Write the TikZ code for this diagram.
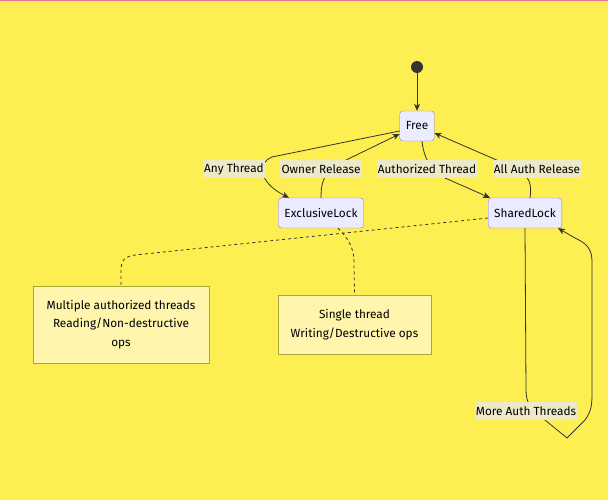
\documentclass[tikz,border=0pt]{standalone}
\usepackage{fontspec}
\setmainfont{Fira Sans}
\usepackage{tikz}
\usetikzlibrary{arrows.meta, positioning}
\usepackage{xcolor}

\definecolor{bgyellow}{RGB}{253,239,82}
\definecolor{topline}{RGB}{232,112,150}
\definecolor{statefill}{RGB}{236,236,255}
\definecolor{stateline}{RGB}{147,112,219}
\definecolor{notefill}{RGB}{255,245,173}
\definecolor{noteline}{RGB}{170,170,51}
\definecolor{lblfill}{RGB}{235,233,200}
\definecolor{edgecol}{RGB}{51,51,51}

\begin{document}
\begin{tikzpicture}[
    x=1pt, y=-1pt,
    font=\fontsize{11.8}{18}\selectfont,
    state/.style={draw=stateline, fill=statefill, rounded corners=3pt,
                  minimum height=30pt, inner xsep=6pt, text=black},
    note/.style={draw=noteline, fill=notefill, align=center,
                 font=\fontsize{11.8}{18.5}\selectfont},
    lbl/.style={fill=lblfill, inner sep=1.2pt, minimum height=18pt},
    arrow/.style={-{Stealth[length=7pt, width=6pt, inset=2pt]}, draw=edgecol, line width=0.8pt},
    notelink/.style={draw=edgecol, dashed, line width=0.8pt}
]

% --- Background ---
\fill[bgyellow] (0,0) rectangle (608,500);
\fill[topline] (0,0) rectangle (608,1.5);
\useasboundingbox (0,0) rectangle (608,500);

% --- States ---
\node[circle, fill=edgecol, minimum size=12pt, inner sep=0pt] (start) at (417,67) {};
\node[state] (free) at (417,126) {Free};
\node[state] (excl) at (321,213) {ExclusiveLock};
\node[state] (shared) at (525,213) {SharedLock};

% --- Notes ---
\node[note, minimum width=176pt, minimum height=77pt] (note1) at (121,324.5)
     {Multiple authorized threads\\Reading/Non-destructive\\ops};
\node[note, minimum width=153pt, minimum height=59pt] (note2) at (354.5,324.5)
     {Single thread\\Writing/Destructive ops};

% --- Note links ---
\draw[notelink] ([yshift=-5pt]shared.west) -- (135,255)
     .. controls (123,257) and (121,261) .. (121,272) -- (note1.north);
\draw[notelink] ([xshift=17pt]excl.south) .. controls (349,239) and (354,249) .. (354,262)
     -- (note2.north);

% --- Transitions ---
\draw[arrow] (start) -- (free);
\draw[arrow] ([yshift=-5pt]free.west) -- (272,157)
     .. controls (257,163) and (258,182) .. ([xshift=-32pt]excl.north);
\draw[arrow] (excl.north) .. controls (321,180) and (325,172) .. (340,163)
     -- ([yshift=-8pt]free.west);
\draw[arrow] ([xshift=5pt]free.south) .. controls (424,158) and (430,170) .. (445,178)
     -- ([xshift=-35pt]shared.north);
\draw[arrow] ([xshift=5pt]shared.north) .. controls (532,185) and (530,175) .. (515,168)
     -- ([yshift=-7pt]free.east);
\draw[arrow] (shared.south) -- (526,390) .. controls (526,402) and (530,410) .. (545,420)
     -- (567,438) -- (585,420) .. controls (591,412) and (592,405) .. (592,395)
     -- (592,262) .. controls (592,250) and (588,244) .. (575,238)
     -- ([xshift=33pt]shared.south);

% --- Labels ---
\node[lbl] (lany) at (234,169) {Any Thread};
\node[lbl] (lowner) at (321,169) {Owner Release};
\node[lbl] (lauth) at (427,169) {Authorized Thread};
\node[lbl] (lall) at (537,169) {All Auth Release};
\node[lbl] (lmore) at (526,411) {More Auth Threads};

\end{tikzpicture}
\end{document}
